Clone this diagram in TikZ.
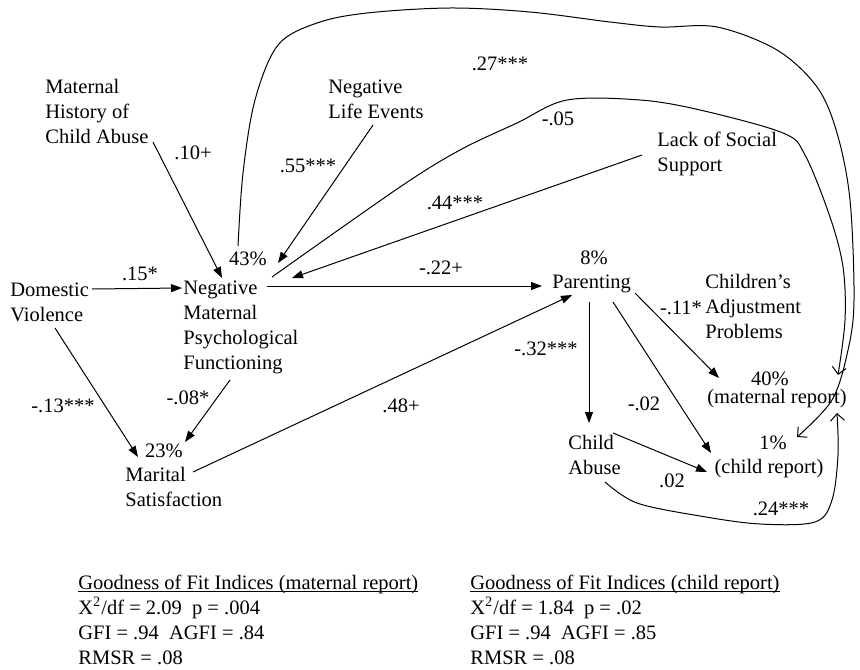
\documentclass[tikz,border=0pt]{standalone}
\usepackage{fontspec}
\setmainfont{Liberation Serif}
\usetikzlibrary{arrows.meta,calc}
\newcommand\fitul[1]{\setbox0=\hbox{#1}\rlap{\rule[-1.3pt]{\wd0}{0.45pt}}\box0}
\begin{document}
\begin{tikzpicture}[x=0.5pt,y=-0.5pt,
  every node/.style={inner sep=0pt, font=\fontsize{10.25pt}{12.5pt}\selectfont},
  lbl/.style={anchor=base},
  var/.style={anchor=base west, align=left},
  link/.style={line width=0.5pt, -{Triangle[length=5.5pt,width=4pt]}},
  curv/.style={line width=0.5pt, -{Straight Barb[length=3.5pt,width=7pt]}},
  ]
\fill[white] (0,0) rectangle (860,669);
\useasboundingbox (0,0) rectangle (860,669);

% variables (anchored at the baseline of their last line)
\node[var] (mhca) at (45,143) {Maternal\\History of\\Child Abuse};
\node[var] (nle) at (328,118) {Negative\\Life Events};
\node[var] (lss) at (657,171) {Lack of Social\\Support};
\node[var] (dv) at (10,321) {Domestic\\Violence};
\node[var] (nmpf) at (183,369) {Negative\\Maternal\\Psychological\\Functioning};
\node[var] (ms) at (125,506) {Marital\\Satisfaction};
\node[var] (par) at (552,288) {Parenting};
\node[var] (cap) at (705,338) {Children’s\\Adjustment\\Problems};
\node[var] (ca) at (568,474) {Child\\Abuse};
\node[lbl] (mr) at (777,403) {(maternal report)};
\node[lbl] (cr) at (769,473) {(child report)};

% explained variance
\node[lbl] (pct43) at (248,265) {43\%};
\node[lbl] (pct23) at (164,457) {23\%};
\node[lbl] (pct8) at (594,264) {8\%};
\node[lbl] (pct40) at (770,385) {40\%};
\node[lbl] (pct1) at (773,449) {1\%};

% coefficients
\node[lbl] (l10) at (193,159) {.10+};
\node[lbl] (l55) at (308,172) {.55***};
\node[lbl] (l27) at (500,70) {.27***};
\node[lbl] (l05) at (558,125) {-.05};
\node[lbl] (l44) at (455,209) {.44***};
\node[lbl] (l15) at (140,280) {.15*};
\node[lbl] (l22) at (441,274) {-.22+};
\node[lbl] (l13) at (63,412) {-.13***};
\node[lbl] (l08) at (188,404) {-.08*};
\node[lbl] (l48) at (401,412) {.48+};
\node[lbl] (l32) at (546,355) {-.32***};
\node[lbl] (l02a) at (644,410) {-.02};
\node[lbl] (l11) at (681,314) {-.11*};
\node[lbl] (l02b) at (672,487) {.02};
\node[lbl] (l24) at (781,515) {.24***};

% straight paths
\draw[link] ([shift={(108,-1)}]mhca.base west) -- ([shift={(39,-91)}]nmpf.base west);
\draw[link] ([shift={(45,7)}]nle.base west) -- ([shift={(95,-106)}]nmpf.base west);
\draw[link] ([shift={(-15,-16)}]lss.base west) -- ([shift={(109,-91)}]nmpf.base west);
\draw[link] ([shift={(82,-32)}]dv.base west) -- ([shift={(-1,-81)}]nmpf.base west);
\draw[link] ([shift={(84,-83)}]nmpf.base west) -- ([shift={(-10,-2)}]par.base west);
\draw[link] ([shift={(45,7)}]dv.base west) -- ([shift={(13,-49)}]ms.base west);
\draw[link] ([shift={(47,11)}]nmpf.base west) -- ([shift={(60,-64)}]ms.base west);
\draw[link] ([shift={(68,-34)}]ms.base west) -- ([shift={(20,7)}]par.base west);
\draw[link] ([shift={(37,14)}]par.base west) -- ([shift={(21,-51)}]ca.base west);
\draw[link] ([shift={(61,14)}]par.base west) -- ([shift={(-58,-20)}]cr.base);
\draw[link] ([shift={(83,5)}]par.base west) -- ([shift={(-58,-25)}]mr.base);
\draw[link] ([shift={(45,-41)}]ca.base west) -- ([shift={(-62,-1)}]cr.base);

% curved paths
\coordinate (c24s) at ([shift={(37,8)}]ca.base west);
\coordinate (c24e) at ([shift={(60,10)}]mr.base);
\draw[curv] plot[smooth, tension=0.55] coordinates {(c24s) (637,503) (700,516) (760,524) (815,522) (832,500) (838,455) (c24e)};

\coordinate (c27s) at ([shift={(-10,-19)}]pct43.base);
\coordinate (c27e) at ([shift={(24,-12)}]pct1.base);
\draw[curv] plot[smooth, tension=0.55] coordinates {(c27s) (243,173) (255,100) (278,45) (317,23) (367,13) (450,8) (530,12) (610,22) (660,27) (717,27) (777,50) (817,87) (837,133) (850,200) (854,300) (848,350) (832,400) (c27e)};

\coordinate (c05s) at ([shift={(89,-92)}]nmpf.base west);
\coordinate (c05e) at ([shift={(68,-10)}]pct40.base);
\draw[curv] plot[smooth, tension=0.55] coordinates {(c05s) (400,187) (460,150) (517,123) (567,100) (640,100) (700,110) (783,133) (805,155) (830,217) (843,267) (845,320) (c05e)};

% fit indices
\node[var] (fitm) at (78,664) {\fitul{Goodness of Fit Indices (maternal report)}\\X\textsuperscript{2}/df = 2.09~~p = .004\\GFI = .94~~AGFI = .84\\RMSR = .08};
\node[var] (fitc) at (470,664) {\fitul{Goodness of Fit Indices (child report)}\\X\textsuperscript{2}/df = 1.84~~p = .02\\GFI = .94~~AGFI = .85\\RMSR = .08};
\end{tikzpicture}
\end{document}
